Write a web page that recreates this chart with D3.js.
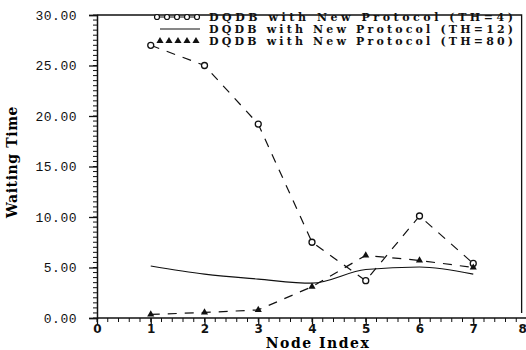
<!DOCTYPE html>
<html>
<head>
  <meta charset="UTF-8">
  <title>Waiting Time vs Node Index</title>
  <style>
    body { margin: 0; background: #fff; }
    svg { display: block; }
    .tick-y { font: 13px "Liberation Mono", monospace; letter-spacing: 0.5px; }
    .tick-x { font: bold 12px "DejaVu Sans", sans-serif; }
    .title { font: bold 14px "DejaVu Serif", serif; letter-spacing: 1.5px; }
    .legend text { font: bold 11px "DejaVu Serif", serif; }
  </style>
</head>
<body>
  <svg id="chart" width="526" height="350"></svg>

  <script src="https://d3js.org/d3.v7.min.js"></script>
  <script>
    // values
    var nodes = [1, 2, 3, 4, 5, 6, 7];
    var th4  = [27.0, 25.0, 19.2, 7.5, 3.7, 10.1, 5.4];
    var th12 = [5.15, 4.35, 3.85, 3.45, 4.8, 5.05, 4.35];
    var th80 = [0.35, 0.55, 0.8, 3.1, 6.2, 5.7, 5.0];
    var seriesNames = ["DQDB with New Protocol (TH=4)",
                       "DQDB with New Protocol (TH=12)",
                       "DQDB with New Protocol (TH=80)"];
    var yTicks = [0, 5, 10, 15, 20, 25, 30];
    var xTicks = [0, 1, 2, 3, 4, 5, 6, 7, 8];

    var svg = d3.select("#chart");

    var x = d3.scaleLinear().domain([0, 8]).range([97, 527]);
    var y = d3.scaleLinear().domain([0, 30]).range([318, 15]);

    // frame: top and right edges
    svg.append("path")
      .attr("d", "M" + x(0) + "," + y(30) + "H" + x(7.9) + "V" + y(0.5))
      .attr("fill", "none").attr("stroke", "#111").attr("stroke-width", 1.3);

    // minor ticks
    svg.append("g").selectAll("line")
      .data(d3.range(0, 30.01, 0.5))
      .enter().append("line")
        .attr("x1", x(0) - 4).attr("x2", x(0))
        .attr("y1", function(d) { return y(d); })
        .attr("y2", function(d) { return y(d); })
        .attr("stroke", "#111");
    svg.append("g").selectAll("line")
      .data(d3.range(0, 8.01, 0.2))
      .enter().append("line")
        .attr("x1", function(d) { return x(d); })
        .attr("x2", function(d) { return x(d); })
        .attr("y1", y(0)).attr("y2", y(0) + 4)
        .attr("stroke", "#111");

    var yAxis = svg.append("g")
      .attr("transform", "translate(" + x(0) + ",0)")
      .call(d3.axisLeft(y).tickValues(yTicks).tickFormat(d3.format(".2f")).tickSize(8).tickPadding(12));
    var xAxis = svg.append("g")
      .attr("transform", "translate(0," + y(0) + ")")
      .call(d3.axisBottom(x).tickValues(xTicks).tickFormat(d3.format("d")).tickSize(6).tickPadding(0));

    [yAxis, xAxis].forEach(function(a) {
      a.select(".domain").attr("stroke", "#111").attr("stroke-width", 1.5);
      a.selectAll(".tick line").attr("stroke", "#111").attr("stroke-width", 1.3);
      a.selectAll("text").attr("fill", "#111").attr("font-family", null).attr("font-size", null);
    });
    yAxis.selectAll("text").attr("class", "tick-y");
    xAxis.selectAll("text").attr("class", "tick-x");
    xAxis.select(".domain").attr("d", "M" + x(0) + ",0H526");
    // the "8" sits on the right edge, as in the scan
    xAxis.selectAll(".tick text").filter(function(d) { return d === 8; }).attr("text-anchor", "end").attr("dx", "-0.05em");

    svg.append("text").attr("class", "title")
      .attr("x", 318).attr("y", 348).attr("text-anchor", "middle")
      .text("Node Index");
    svg.append("text").attr("class", "title")
      .attr("transform", "translate(17,162) rotate(-90)")
      .attr("text-anchor", "middle")
      .style("letter-spacing", "0.6px")
      .text("Waiting Time");

    var smooth = d3.line()
      .x(function(d) { return x(d[0]); })
      .y(function(d) { return y(d[1]); })
      .curve(d3.curveMonotoneX);
    var straight = d3.line()
      .x(function(d) { return x(d[0]); })
      .y(function(d) { return y(d[1]); });

    function pts(vals) { return nodes.map(function(n, i) { return [n, vals[i]]; }); }

    svg.append("path").datum(pts(th4)).attr("d", straight)
      .attr("fill", "none").attr("stroke", "#111").attr("stroke-width", 1.2)
      .attr("stroke-dasharray", "9,8");
    svg.append("path").datum(pts(th12)).attr("d", smooth)
      .attr("fill", "none").attr("stroke", "#111").attr("stroke-width", 1.2);
    svg.append("path").datum(pts(th80)).attr("d", straight)
      .attr("fill", "none").attr("stroke", "#111").attr("stroke-width", 1.2)
      .attr("stroke-dasharray", "9,8");

    var tri = d3.symbol().type(d3.symbolTriangle).size(22);

    svg.append("g").selectAll("circle")
      .data(pts(th4))
      .enter().append("circle")
        .attr("cx", function(d) { return x(d[0]); })
        .attr("cy", function(d) { return y(d[1]); })
        .attr("r", 3)
        .attr("fill", "#fff").attr("stroke", "#111").attr("stroke-width", 1.3);
    svg.append("g").selectAll("path")
      .data(pts(th80))
      .enter().append("path")
        .attr("d", tri)
        .attr("transform", function(d) { return "translate(" + x(d[0]) + "," + y(d[1]) + ")"; })
        .attr("fill", "#111");

    // legend
    var legend = svg.append("g").attr("class", "legend");
    var ly = [17, 29, 41];
    seriesNames.forEach(function(name, i) {
      legend.append("text")
        .attr("x", 209).attr("y", ly[i]).attr("dy", "0.35em")
        .attr("textLength", 304).attr("lengthAdjust", "spacing")
        .attr("fill", "#111")
        .text(name);
    });
    legend.append("line").attr("x1", 155).attr("x2", 200).attr("y1", ly[0]).attr("y2", ly[0])
      .attr("stroke", "#111");
    legend.selectAll("circle").data(d3.range(5)).enter().append("circle")
      .attr("cx", function(d) { return 157 + d * 10; }).attr("cy", ly[0]).attr("r", 2.5)
      .attr("fill", "#fff").attr("stroke", "#111").attr("stroke-width", 1.2);
    legend.append("line").attr("x1", 160).attr("x2", 200).attr("y1", ly[1]).attr("y2", ly[1])
      .attr("stroke", "#111").attr("stroke-width", 1.2);
    legend.selectAll(".ltri").data(d3.range(5)).enter().append("path")
      .attr("class", "ltri")
      .attr("d", tri)
      .attr("transform", function(d) { return "translate(" + (160 + d * 9) + "," + ly[2] + ")"; })
      .attr("fill", "#111");
  </script>
</body>
</html>
